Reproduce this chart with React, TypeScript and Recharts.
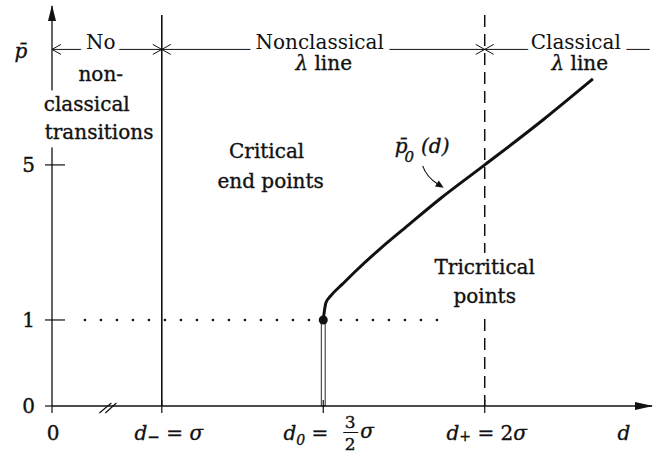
import React from 'react';
import { LineChart, Line, XAxis, YAxis, ReferenceLine, ReferenceDot, ReferenceArea } from 'recharts';

const FONT = '"DejaVu Serif", "Liberation Serif", serif';
const INK = '#111';
const FS = 20;

// λ line: separation d (in units of σ) and reduced pressure p̄0(d)
const lambdaD = [1.5, 1.504, 1.508, 1.523, 1.56, 1.604, 1.675, 1.768, 1.861, 2.0, 2.18, 2.335];
const lambdaP = [1.0, 1.26, 1.44, 1.62, 1.93, 2.29, 2.83, 3.48, 4.12, 5.0, 6.16, 7.22];

// axis extents (the d axis is broken between 0 and d−)
const D_MIN = 0.66;
const D_MAX = 2.518;
const P_MAX = 9.1;

// characteristic separations
const D_MINUS = 1;
const D_ZERO = 1.5;
const D_PLUS = 2;
const P_AT_D_ZERO = 1;

const xTicks = [D_MIN, D_MINUS, D_ZERO, D_PLUS];
const yTicks = [0, 1, 5];
const yTickLabels = ['0', '1', '5'];

// heights of the boundary lines and the regime brackets
const P_LINE_TOP = 8.87;
const P_BRACKET = 7.98;
const D_BRACKET_END = 2.511;
const D_DOTS_START = 0.762;
const D_DOTS_END = 1.857;
const D_BREAK = 0.833;

// the pressure axis is stretched below p̄ = 1
const P_SPLIT = 1;
const LOW_GAIN = 86;
const HIGH_GAIN = 38.75;

function pressureScale(): any {
  let dom: number[] = [0, 1];
  let rng: number[] = [0, 1];
  const warp = (p: number) =>
    p <= P_SPLIT ? p * LOW_GAIN : P_SPLIT * LOW_GAIN + (p - P_SPLIT) * HIGH_GAIN;
  const unwarp = (w: number) =>
    w <= P_SPLIT * LOW_GAIN ? w / LOW_GAIN : P_SPLIT + (w - P_SPLIT * LOW_GAIN) / HIGH_GAIN;
  const s: any = (v: number) => {
    const a = warp(dom[0]);
    const b = warp(dom[1]);
    return rng[0] + ((warp(Number(v)) - a) / (b - a)) * (rng[1] - rng[0]);
  };
  s.domain = (d?: any[]) => {
    if (!d) return dom.slice();
    dom = [Number(d[0]), Number(d[d.length - 1])];
    return s;
  };
  s.range = (r?: number[]) => {
    if (!r) return rng.slice();
    rng = [Number(r[0]), Number(r[r.length - 1])];
    return s;
  };
  s.invert = (y: number) => {
    const a = warp(dom[0]);
    const b = warp(dom[1]);
    return unwarp(a + ((y - rng[0]) / (rng[1] - rng[0])) * (b - a));
  };
  s.ticks = () => yTicks.slice();
  s.tickFormat = () => (v: number) => String(v);
  s.nice = () => s;
  s.clamp = () => s;
  s.copy = () => pressureScale().domain(dom).range(rng);
  return s;
}

const yScale = pressureScale();

const data = lambdaD.map((d, i) => ({ d, p: lambdaP[i] }));

// slightly heavier strokes on the glyphs
const txt = { fontFamily: FONT, fontSize: FS, fill: INK, stroke: INK, strokeWidth: 0.35 };

// text sitting on a bracket line, cut out of it by a white halo
function OnLine({ x, y, children }: { x: number; y: number; children: React.ReactNode }) {
  return (
    <text
      x={x}
      y={y}
      textAnchor="middle"
      fontFamily={FONT}
      fontSize={FS}
      fill={INK}
      stroke="#fff"
      strokeWidth={12}
      strokeLinejoin="round"
      paintOrder="stroke"
    >
      {children}
    </text>
  );
}

function XTick(props: any) {
  const { x, y, payload } = props;
  const v = payload.value;
  const mark = (
    <line x1={x} x2={x} y1={v === D_MIN ? y : y - 6} y2={y + 7} stroke={INK} strokeWidth={1.2} />
  );
  let label: React.ReactNode = null;
  if (v === D_MIN) {
    label = (
      <text x={x + 1} y={y + 34} textAnchor="middle" {...txt}>
        0
      </text>
    );
  } else if (v === D_MINUS) {
    label = (
      <text x={x + 7} y={y + 34} textAnchor="middle" {...txt}>
        <tspan fontStyle="italic">d</tspan>
        <tspan fontSize={15} dy={2}>−</tspan>
        <tspan dy={-2}> = </tspan>
        <tspan fontStyle="italic">σ</tspan>
      </text>
    );
  } else if (v === D_ZERO) {
    label = (
      <g>
        <text x={x + 5} y={y + 34} textAnchor="end" {...txt}>
          <tspan fontStyle="italic">d</tspan>
          <tspan fontStyle="italic" fontSize={14} dy={5}>0</tspan>
          <tspan dy={-5}> =</tspan>
        </text>
        <text x={x + 27} y={y + 22} textAnchor="middle" {...txt} fontSize={17}>
          3
        </text>
        <line x1={x + 20} x2={x + 35} y1={y + 26.5} y2={y + 26.5} stroke={INK} strokeWidth={1} />
        <text x={x + 27} y={y + 44} textAnchor="middle" {...txt} fontSize={17}>
          2
        </text>
        <text x={x + 37} y={y + 32} {...txt} fontStyle="italic">
          σ
        </text>
      </g>
    );
  } else if (v === D_PLUS) {
    label = (
      <text x={x + 2} y={y + 34} textAnchor="middle" {...txt}>
        <tspan fontStyle="italic">d</tspan>
        <tspan fontSize={14} dy={1}>+</tspan>
        <tspan dy={-1}> = 2</tspan>
        <tspan fontStyle="italic">σ</tspan>
      </text>
    );
  }
  return (
    <g>
      {mark}
      {label}
    </g>
  );
}

function YTick(props: any) {
  const { x, y, payload } = props;
  const v = payload.value;
  const i = yTicks.indexOf(v);
  return (
    <g>
      <line x1={x - 7} x2={v === 0 ? x : x + 13} y1={y} y2={y} stroke={INK} strokeWidth={1.2} />
      <text x={x - 17} y={y + 7} textAnchor="end" {...txt}>
        {yTickLabels[i]}
      </text>
    </g>
  );
}

function DName(props: any) {
  const vb = props.viewBox || {};
  return (
    <text x={vb.x + vb.width - 28} y={vb.y + 34} textAnchor="middle" {...txt} fontStyle="italic">
      d
    </text>
  );
}

function PName(props: any) {
  const vb = props.viewBox || {};
  return (
    <text x={vb.x + vb.width - 31} y={vb.y + 52} textAnchor="middle" {...txt} fontStyle="italic">
      p̄
    </text>
  );
}

// bracket line with open arrowheads
const bracket = (headStart: boolean, headEnd: boolean) => (props: any) => {
  const { x1, y1, x2, y2 } = props;
  const h = 9;
  const w = 5;
  return (
    <g>
      <line x1={x1} y1={y1} x2={x2} y2={y2} stroke={INK} strokeWidth={1} />
      {headStart && (
        <polyline
          points={`${x1 + h},${y1 - w} ${x1},${y1} ${x1 + h},${y1 + w}`}
          fill="none"
          stroke={INK}
          strokeWidth={1}
        />
      )}
      {headEnd && (
        <polyline
          points={`${x2 - h},${y2 - w} ${x2},${y2} ${x2 - h},${y2 + w}`}
          fill="none"
          stroke={INK}
          strokeWidth={1}
        />
      )}
    </g>
  );
};

const xArrow = ({ cx, cy }: any) => (
  <polygon points={`${cx + 1},${cy} ${cx - 17},${cy - 4} ${cx - 17},${cy + 4}`} fill={INK} />
);
const yArrow = ({ cx, cy }: any) => (
  <polygon points={`${cx},${cy - 1} ${cx - 4},${cy + 15} ${cx + 4},${cy + 15}`} fill={INK} />
);
const axisBreak = ({ cx, cy }: any) => (
  <g stroke={INK} strokeWidth={1.2}>
    <line x1={cx - 8.5} y1={cy + 7} x2={cx + 3.5} y2={cy - 3} />
    <line x1={cx - 2.5} y1={cy + 7} x2={cx + 8.5} y2={cy - 3} />
  </g>
);

const noteNone = ({ cx, cy }: any) => (
  <g>
    <rect x={cx - 62} y={cy + 41} width={120} height={57} fill="#fff" />
    <OnLine x={cx} y={cy}>
      No
    </OnLine>
    <text x={cx} y={cy + 32} textAnchor="middle" {...txt}>
      non-
    </text>
    <text x={cx - 57} y={cy + 62} {...txt}>
      classical
    </text>
    <text x={cx - 56} y={cy + 90} {...txt}>
      transitions
    </text>
  </g>
);

const noteLambda = (word: string) => ({ cx, cy }: any) => (
  <g>
    <OnLine x={cx} y={cy}>
      {word}
    </OnLine>
    <text x={cx + 4} y={cy + 21} textAnchor="middle" {...txt}>
      <tspan fontStyle="italic">λ</tspan>
      <tspan>  line</tspan>
    </text>
  </g>
);

const noteCritical = ({ cx, cy }: any) => (
  <g>
    <text x={cx - 3} y={cy} textAnchor="middle" {...txt}>
      Critical
    </text>
    <text x={cx + 1} y={cy + 30} textAnchor="middle" {...txt}>
      end points
    </text>
  </g>
);

const noteTricritical = ({ cx, cy }: any) => (
  <g>
    <rect x={cx - 6} y={cy - 21} width={12} height={64} fill="#fff" />
    <text x={cx} y={cy} textAnchor="middle" {...txt}>
      Tricritical
    </text>
    <text x={cx} y={cy + 29} textAnchor="middle" {...txt}>
      points
    </text>
  </g>
);

const noteCurve = ({ cx, cy }: any) => (
  <g>
    <path
      d={`M ${cx - 21} ${cy - 22} Q ${cx - 17.5} ${cy - 11} ${cx - 5} ${cy - 3}`}
      fill="none"
      stroke={INK}
      strokeWidth={1.1}
    />
    <polygon
      points={`${cx},${cy} ${cx - 8.7},${cy - 1.3} ${cx - 4.9},${cy - 7.3}`}
      fill={INK}
    />
    <text x={cx - 49} y={cy - 35} {...txt} fontStyle="italic">
      p̄
      <tspan fontSize={15} dx={-3} dy={9}>0</tspan>
      <tspan dx={7} dy={-9}>(d)</tspan>
    </text>
  </g>
);

export default function App() {
  return (
    <div style={{ position: 'absolute', left: 0, top: 0, width: 670, height: 453, background: '#fff' }}>
      <LineChart
        width={670}
        height={453}
        data={data}
        margin={{ top: 6, right: 18, bottom: 46, left: 51 }}
      >
        <XAxis
          dataKey="d"
          type="number"
          domain={[D_MIN, D_MAX]}
          allowDataOverflow
          ticks={xTicks}
          interval={0}
          tickSize={0}
          tickMargin={0}
          tickLine={false}
          tick={XTick}
          axisLine={{ stroke: INK, strokeWidth: 1.3 }}
          height={1}
          label={DName}
        />
        <YAxis
          type="number"
          domain={[0, P_MAX]}
          allowDataOverflow
          scale={yScale}
          ticks={yTicks}
          interval={0}
          tickSize={0}
          tickMargin={0}
          tickLine={false}
          tick={YTick}
          axisLine={{ stroke: INK, strokeWidth: 1.3 }}
          width={1}
          label={PName}
        />

        {/* regime boundaries */}
        <ReferenceLine
          segment={[{ x: D_MINUS, y: P_LINE_TOP }, { x: D_MINUS, y: 0 }]}
          stroke={INK}
          strokeWidth={1.6}
          ifOverflow="visible"
        />
        <ReferenceLine
          segment={[{ x: D_PLUS, y: P_LINE_TOP }, { x: D_PLUS, y: 0 }]}
          stroke={INK}
          strokeWidth={1.5}
          strokeDasharray="12 7"
          ifOverflow="visible"
        />

        {/* p̄ = 1 guide */}
        <ReferenceLine
          segment={[{ x: D_DOTS_START, y: P_AT_D_ZERO }, { x: D_DOTS_END, y: P_AT_D_ZERO }]}
          stroke={INK}
          strokeWidth={2.6}
          strokeLinecap="round"
          strokeDasharray="0 16"
          ifOverflow="visible"
        />

        {/* regime brackets */}
        <ReferenceLine
          segment={[{ x: D_MIN, y: P_BRACKET }, { x: D_MINUS, y: P_BRACKET }]}
          shape={bracket(true, true)}
          ifOverflow="visible"
        />
        <ReferenceLine
          segment={[{ x: D_MINUS, y: P_BRACKET }, { x: D_PLUS, y: P_BRACKET }]}
          shape={bracket(true, true)}
          ifOverflow="visible"
        />
        <ReferenceLine
          segment={[{ x: D_PLUS, y: P_BRACKET }, { x: D_BRACKET_END, y: P_BRACKET }]}
          shape={bracket(true, false)}
          ifOverflow="visible"
        />

        {/* stem below the onset of the λ line */}
        <ReferenceArea
          x1={D_ZERO - 0.006}
          x2={D_ZERO + 0.006}
          y1={0}
          y2={P_AT_D_ZERO}
          fill="#fff"
          fillOpacity={1}
          stroke={INK}
          strokeWidth={0.9}
          ifOverflow="visible"
        />

        <Line
          dataKey="p"
          type="monotone"
          stroke={INK}
          strokeWidth={3}
          dot={false}
          activeDot={false}
          isAnimationActive={false}
        />

        <ReferenceDot x={D_ZERO} y={P_AT_D_ZERO} r={4.5} fill={INK} stroke="none" ifOverflow="visible" />

        <ReferenceDot x={D_MAX} y={0} shape={xArrow} ifOverflow="visible" />
        <ReferenceDot x={D_MIN} y={P_MAX} shape={yArrow} ifOverflow="visible" />
        <ReferenceDot x={D_BREAK} y={0} shape={axisBreak} ifOverflow="visible" />

        <ReferenceDot x={0.811} y={P_BRACKET} shape={noteNone} ifOverflow="visible" />
        <ReferenceDot x={1.489} y={P_BRACKET} shape={noteLambda('Nonclassical')} ifOverflow="visible" />
        <ReferenceDot x={2.282} y={P_BRACKET} shape={noteLambda('Classical')} ifOverflow="visible" />
        <ReferenceDot x={1.334} y={5.18} shape={noteCritical} ifOverflow="visible" />
        <ReferenceDot x={D_PLUS} y={2.187} shape={noteTricritical} ifOverflow="visible" />
        <ReferenceDot x={1.873} y={4.41} shape={noteCurve} ifOverflow="visible" />
      </LineChart>
    </div>
  );
}
